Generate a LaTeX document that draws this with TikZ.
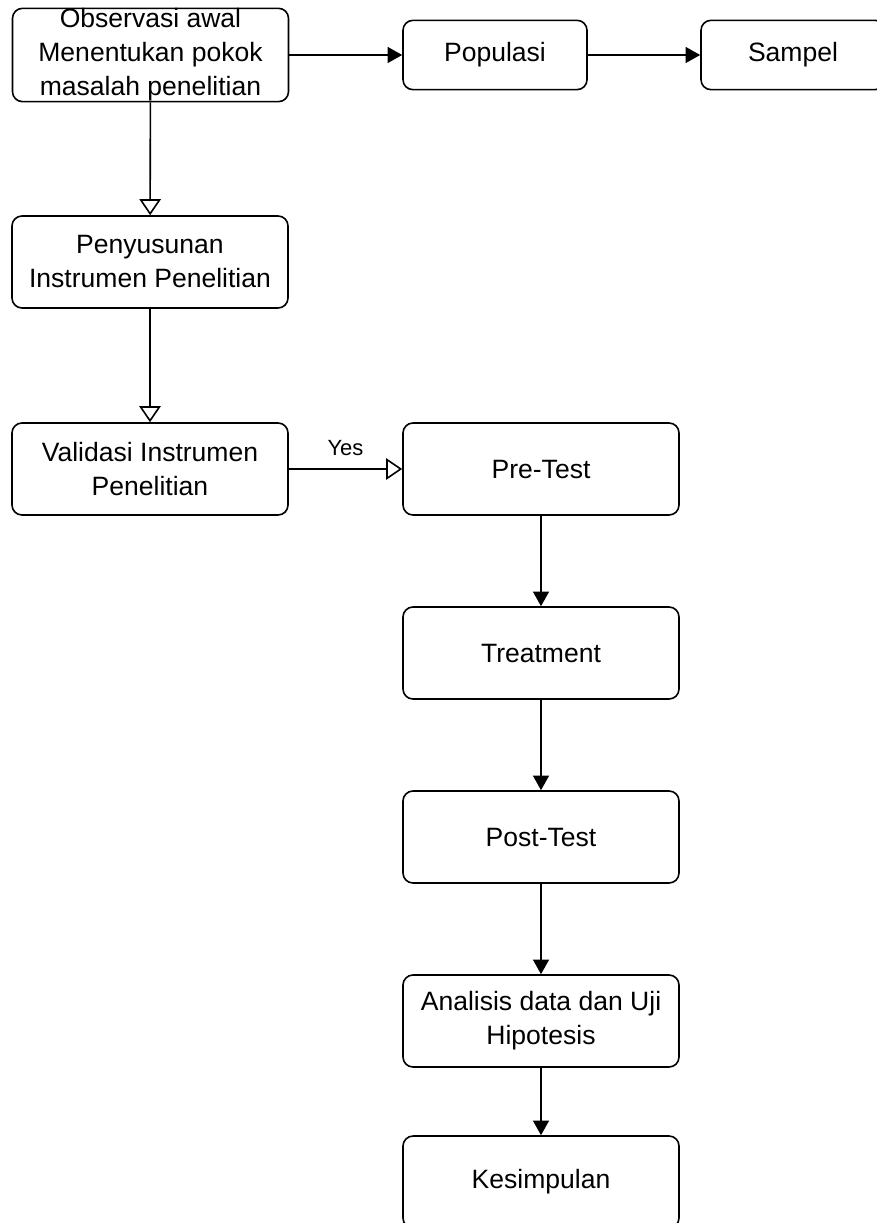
\documentclass[tikz,border=0pt]{standalone}
\usepackage{fontspec}
\setmainfont{Liberation Sans}
\usepackage{tikz}
\usetikzlibrary{arrows.meta,positioning}

\tikzset{
	box/.style={shape=rectangle,draw,rounded corners=7.5pt,line width=1.2pt,
		minimum width=207pt,minimum height=69pt,inner sep=0pt,align=center,
		font=\fontsize{19.9}{25.5}\selectfont},
	flow/.style={line width=1.2pt,-{Triangle[length=11pt,width=12pt]}},
	hollow/.style={line width=1.2pt,-{Triangle[open,length=12pt,width=16pt,fill=white]}}
}

\begin{document}
\begin{tikzpicture}[x=0.75pt,y=-0.75pt]
	\useasboundingbox (0,0) rectangle (877,1223);
	\node[box,minimum width=207pt,minimum height=70pt] (obs) at (150.5,55) {Observasi awal\\Menentukan pokok\\masalah penelitian};
	\node[box,minimum width=138pt,minimum height=52pt] (pop) at (495,55) {Populasi};
	\node[box,minimum width=138pt,minimum height=52pt] (sam) at (793,55) {Sampel};
	\node[box] (pen) at (150,262) {Penyusunan\\Instrumen Penelitian};
	\node[box] (val) at (150,469) {Validasi Instrumen\\Penelitian};
	\node[box] (pre) at (541,469) {Pre-Test};
	\node[box] (tre) at (541,653) {Treatment};
	\node[box] (pos) at (541,837) {Post-Test};
	\node[box] (ana) at (541,1021) {Analisis data dan Uji\\Hipotesis};
	\node[box] (kes) at (541,1182) {Kesimpulan};

	\draw[flow] (obs) -- (pop);
	\draw[flow] (pop) -- (sam);
	\draw[hollow] (obs) -- (pen);
	\draw[hollow] (pen) -- (val);
	\draw[hollow] (val) -- node[above,inner sep=9pt,font=\fontsize{16.5}{20}\selectfont] {Yes} (pre);
	\draw[flow] (pre) -- (tre);
	\draw[flow] (tre) -- (pos);
	\draw[flow] (pos) -- (ana);
	\draw[flow] (ana) -- (kes);
\end{tikzpicture}
\end{document}
